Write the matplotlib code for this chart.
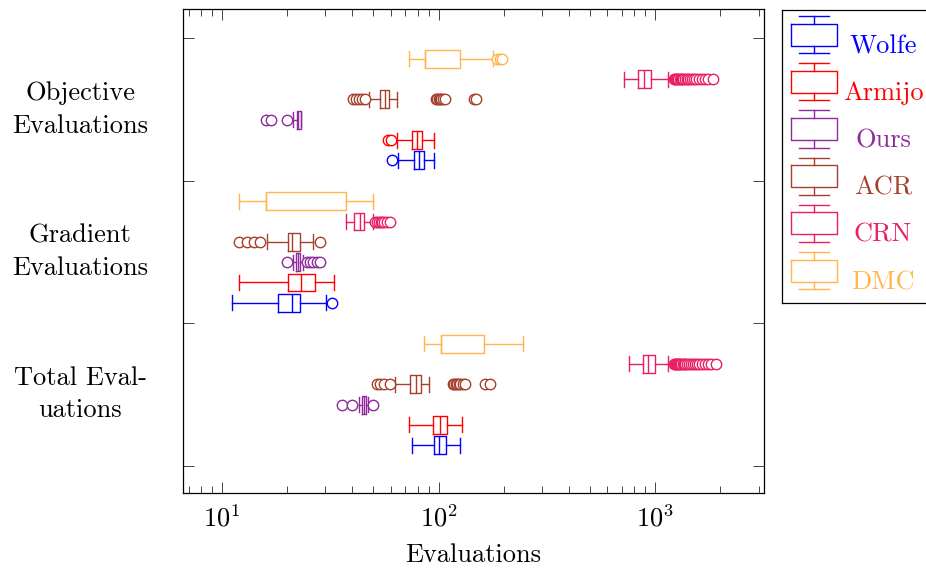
import numpy as np
import matplotlib
matplotlib.use("Agg")
import matplotlib.pyplot as plt
import matplotlib.transforms as mtransforms

plt.rcParams["font.family"] = ["cmr10", "DejaVu Serif"]
plt.rcParams["mathtext.fontset"] = "cm"
plt.rcParams["axes.formatter.use_mathtext"] = True

# groups from bottom to top
groups = ["Total Eval-\nuations", "Gradient\nEvaluations", "Objective\nEvaluations"]
methods = ["Wolfe", "Armijo", "Ours", "ACR", "CRN", "DMC"]
colors = ["#0000ff", "#ff0000", "#8e2a9a", "#a5402d", "#e91e63", "#ffb74d"]

# (whislo, q1, med, q3, whishi) for total, gradient, objective
wolfe_stats = [(75.7, 95.3, 100.9, 108, 125), (11.1, 18.1, 21.0, 23.0, 30.2), (65.2, 77.1, 81.0, 85.2, 95.3)]
armijo_stats = [(73.1, 94.6, 101.6, 109.8, 128), (12.0, 20.1, 23.1, 26.8, 33.0), (64.1, 75.2, 79.3, 84.1, 95.3)]
ours_stats = [(42.7, 44.2, 45.1, 46.0, 47.4), (21.3, 22.0, 22.4, 22.9, 23.6), (21.3, 22.1, 22.5, 23.1, 23.1)]
acr_stats = [(63.0, 73.8, 78.7, 82.8, 89.8), (16.1, 20.1, 21.0, 23.0, 26.4), (47.9, 53.8, 56.4, 59.0, 64.1)]
crn_stats = [(755, 874, 931, 1003, 1150), (37.2, 40.8, 43.4, 45.1, 49.7), (716, 831, 889, 959, 1140)]
dmc_stats = [(85.4, 102.5, 102.5, 162.6, 244.6), (12.0, 16.0, 16.0, 37.2, 50.0), (73.0, 86.9, 86.9, 126.0, 179.0)]

wolfe_fliers = [[], [32.1], [61.0]]
armijo_fliers = [[], [], [58.1, 60.1]]
ours_fliers = [[35.9, 40.0, 50.0], [19.9, 24.6, 25.5, 26.4, 27.4, 28.2], [16.0, 16.8, 20.0]]
acr_fliers = [[51.8, 53.7, 56.0, 59.7, 116, 118, 120, 122, 124, 126, 129, 133, 164, 172],
              [12.0, 13.0, 14.0, 15.0, 28.2],
              [40.4, 41.5, 42.7, 44.2, 45.7, 97, 98.5, 100, 101.5, 103, 105, 107, 145, 148]]
crn_fliers = [[1215, 1230, 1245, 1260, 1275, 1290, 1305, 1320, 1340, 1360, 1380, 1405, 1430,
               1460, 1490, 1520, 1560, 1600, 1650, 1700, 1760, 1810, 1905],
              [51.0, 52.0, 53.0, 54.0, 55.0, 56.0, 57.5, 59.7],
              [1220, 1235, 1250, 1265, 1280, 1295, 1310, 1330, 1350, 1370, 1395, 1420, 1450,
               1480, 1510, 1550, 1590, 1640, 1690, 1760, 1855]]
dmc_fliers = [[], [], [186, 193, 197]]

all_stats = [wolfe_stats, armijo_stats, ours_stats, acr_stats, crn_stats, dmc_stats]
all_fliers = [wolfe_fliers, armijo_fliers, ours_fliers, acr_fliers, crn_fliers, dmc_fliers]

fig = plt.figure(figsize=(9.26, 5.69), dpi=100)
ax = fig.add_axes([183 / 926, 1 - 493 / 569, (764 - 183) / 926, (493 - 9) / 569])

step = 0.1427
for i, m in enumerate(methods):
    c = colors[i]
    stats = []
    for g in range(3):
        lo, q1, med, q3, hi = all_stats[i][g]
        stats.append(dict(whislo=lo, q1=q1, med=med, q3=q3, whishi=hi, fliers=all_fliers[i][g]))
    pos = np.arange(1, 4) + (i - 2.5) * step
    lp = dict(color=c, lw=1.0)
    ax.bxp(stats, positions=pos, widths=0.126, capwidths=0.105, orientation="horizontal",
           showfliers=True, manage_ticks=False,
           boxprops=lp, medianprops=lp, whiskerprops=lp, capprops=lp,
           flierprops=dict(marker="o", markerfacecolor="white", markeredgecolor=c,
                           markersize=7.5, markeredgewidth=1.0, linestyle="none"))

ax.set_xscale("log")
ax.set_xlim(6.6, 3180)
ax.set_ylim(0.308, 3.706)
ax.set_yticks([0.5, 1.5, 2.5, 3.5])
ax.set_yticklabels([])
ax.tick_params(which="both", direction="in", top=True, right=True, width=0.7, color="#444444")
ax.tick_params(which="major", length=8, labelsize=19, pad=8)
ax.tick_params(which="minor", length=5)
ax.tick_params(axis="y", which="minor", left=False, right=False)
for s in ax.spines.values():
    s.set_linewidth(0.9)
ax.set_xlabel("Evaluations", fontsize=19, labelpad=9)

trans = mtransforms.blended_transform_factory(ax.transAxes, ax.transData)
for g, lab in enumerate(groups):
    ax.text(-0.177, g + 1, lab, transform=trans, ha="center", va="center",
            fontsize=19, multialignment="center", linespacing=1.45)

# legend drawn as a small axes in pixel-like coords
lax = fig.add_axes([782 / 926, 1 - 303 / 569, (960 - 782) / 926, (303 - 10) / 569])
lax.set_xlim(782, 960)
lax.set_ylim(303, 10)
lax.set_xticks([])
lax.set_yticks([])
for s in lax.spines.values():
    s.set_linewidth(0.9)
for k, m in enumerate(methods):
    c = colors[k]
    cy = 34.6 + 47.2 * k
    lax.plot([814, 814], [cy - 18.6, cy - 11], color=c, lw=1.0)
    lax.plot([814, 814], [cy + 11, cy + 18.6], color=c, lw=1.0)
    lax.plot([799, 829], [cy - 18.6, cy - 18.6], color=c, lw=1.0)
    lax.plot([799, 829], [cy + 18.6, cy + 18.6], color=c, lw=1.0)
    lax.plot([791, 837, 837, 791, 791], [cy - 11, cy - 11, cy + 11, cy + 11, cy - 11], color=c, lw=1.0)
    lax.text(883, cy + 18.6, m, color=c, fontsize=19, ha="center", va="baseline")

fig.savefig("out.png", dpi=100)
